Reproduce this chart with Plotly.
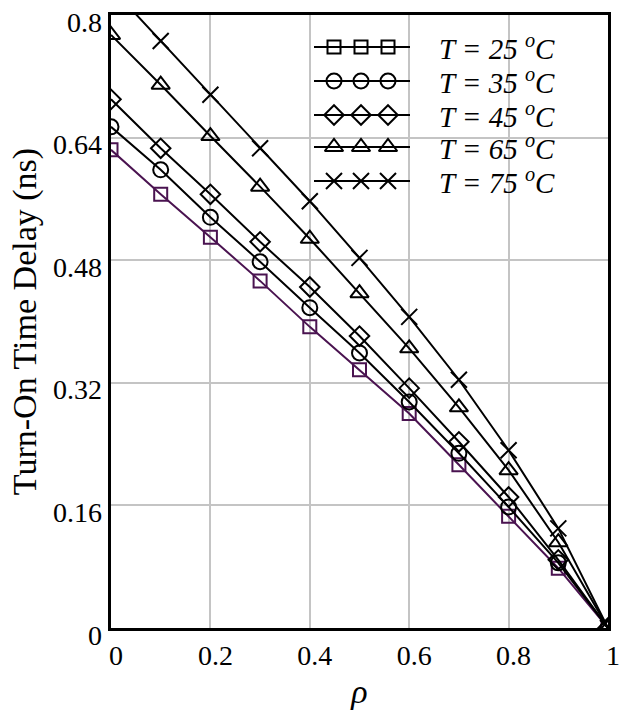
import plotly.graph_objects as go

# Duty ratio rho and turn-on delay (ns) for each junction temperature
rho = [0.0, 0.1, 0.2, 0.3, 0.4, 0.5, 0.6, 0.7, 0.8, 0.9, 1.0]
delay_25 = [0.624, 0.566, 0.510, 0.453, 0.393, 0.337, 0.280, 0.213, 0.146, 0.078, 0.0]
delay_35 = [0.654, 0.598, 0.536, 0.478, 0.418, 0.359, 0.295, 0.228, 0.158, 0.085, 0.0]
delay_45 = [0.690, 0.626, 0.566, 0.504, 0.445, 0.381, 0.313, 0.243, 0.171, 0.089, 0.0]
delay_65 = [0.774, 0.709, 0.642, 0.576, 0.508, 0.437, 0.365, 0.288, 0.206, 0.112, 0.0]
delay_75 = [0.836, 0.766, 0.696, 0.626, 0.557, 0.483, 0.406, 0.324, 0.232, 0.130, 0.0]

temps = ["25", "35", "45", "65", "75"]
y_ticks = [0, 0.16, 0.32, 0.48, 0.64, 0.8]
y_tick_text = ["0", "0.16", "0.32", "0.48", "0.64", "0.8"]
x_ticks = [0, 0.2, 0.4, 0.6, 0.8, 1.0]
x_tick_text = ["0", "0.2", "0.4", "0.6", "0.8", "1"]

SERIF = "'Liberation Serif', 'Times New Roman', Times, serif"
W, H = 621, 711
L, R, T, B = 111, 13, 15, 83

styles = [
    dict(symbol="square-open", size=13, color="#4a1350"),
    dict(symbol="circle-open", size=15, color="black"),
    dict(symbol="diamond-open", size=15, color="black"),
    dict(symbol="triangle-up-open", size=16, color="black"),
    dict(symbol="x-thin-open", size=16, color="black"),
]
series = [delay_25, delay_35, delay_45, delay_65, delay_75]

fig = go.Figure()

for vals, st in zip(series, styles):
    fig.add_trace(go.Scatter(
        x=rho, y=vals, mode="lines+markers",
        line=dict(color=st["color"], width=2),
        marker=dict(symbol=st["symbol"], size=st["size"],
                    color=st["color"], line=dict(color=st["color"], width=2)),
        showlegend=False,
    ))

# Hand-drawn key on an overlay axis measured in pixels from the plot corner
key_rows = [47, 81, 115, 147, 181]
key_line = [314, 410]
key_marks = [334, 361, 388]
key_text_x = 437
for ty, st, t in zip(key_rows, styles, temps):
    fig.add_trace(go.Scatter(
        x=key_line, y=[ty, ty], mode="lines", xaxis="x2", yaxis="y2",
        line=dict(color="black", width=2), showlegend=False, hoverinfo="skip",
    ))
    fig.add_trace(go.Scatter(
        x=key_marks, y=[ty] * 3, mode="markers", xaxis="x2", yaxis="y2",
        marker=dict(symbol=st["symbol"], size=st["size"], color="black",
                    line=dict(color="black", width=2)),
        showlegend=False, hoverinfo="skip",
    ))
    fig.add_annotation(
        x=key_text_x, y=ty, xref="x2", yref="y2", xanchor="left", yanchor="middle",
        text=f"<i>T = {t} <sup>o</sup>C</i>", showarrow=False,
        font=dict(family=SERIF, size=29, color="black"),
    )

# Y tick labels sit slightly below their grid lines
for v, txt in zip(y_ticks, y_tick_text):
    fig.add_annotation(
        x=0, y=v, xref="paper", yref="y", xanchor="right", yanchor="middle",
        xshift=-7, yshift=-7, text=txt, showarrow=False,
        font=dict(family=SERIF, size=28, color="black"),
    )

fig.update_layout(
    width=W, height=H,
    margin=dict(l=L, r=R, t=T, b=B, autoexpand=False),
    paper_bgcolor="white", plot_bgcolor="white",
    font=dict(family=SERIF, color="black"),
    xaxis=dict(
        range=[0, 1], tickvals=x_ticks, ticktext=x_tick_text,
        showgrid=True, gridcolor="#c4c4c4", gridwidth=2,
        showline=True, linecolor="black", linewidth=3, mirror=True,
        zeroline=False, ticks="", tickfont=dict(family=SERIF, size=28),
        ticklabelshift=5, automargin=False,
        title=dict(text="<i>ρ</i>", font=dict(family=SERIF, size=34), standoff=10),
    ),
    yaxis=dict(
        range=[0, 0.8], tickvals=y_ticks, showticklabels=False,
        showgrid=True, gridcolor="#c4c4c4", gridwidth=2,
        showline=True, linecolor="black", linewidth=3, mirror=True,
        zeroline=False, ticks="", automargin=False,
        title=dict(text="Turn-On Time Delay (ns)", font=dict(family=SERIF, size=34), standoff=62),
    ),
    xaxis2=dict(overlaying="x", range=[L, W - R], visible=False, fixedrange=True),
    yaxis2=dict(overlaying="y", range=[H - B, T], visible=False, fixedrange=True),
)

fig.write_html("out.html")
